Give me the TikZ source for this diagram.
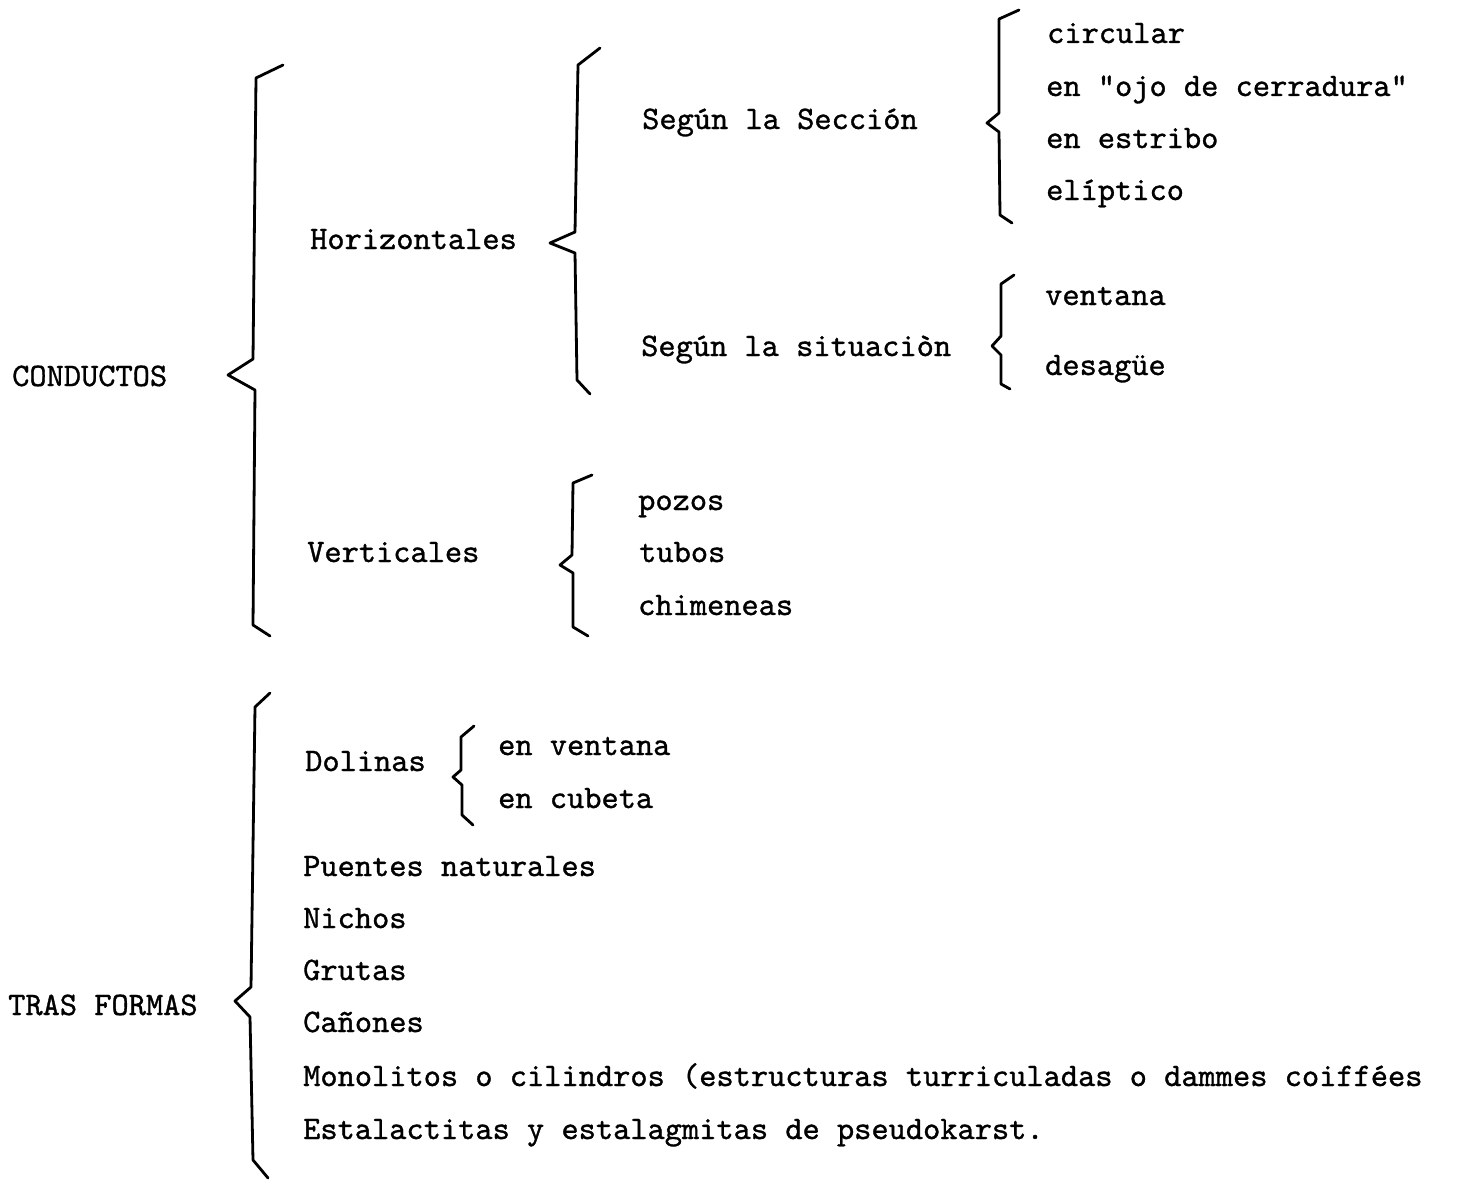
\documentclass[tikz,border=0pt]{standalone}
\usepackage{fontspec}
\newfontfamily\typew{lmmono10-regular}[Extension=.otf,FakeBold=1.0]
\begin{document}
\begin{tikzpicture}[x=1pt,y=-1pt,
  lbl/.style={anchor=base west,inner sep=0pt,font=\typew\fontsize{32.8}{34}\selectfont},
  brace/.style={line width=2.8pt,line join=round,line cap=round}]
\useasboundingbox[fill=white] (0,0) rectangle (1458,1180);
% top level
\node[lbl] (conductos) at (12,386) {CONDUCTOS};
\node[lbl] (tras) at (8,1015) {TRAS FORMAS};
% conductos
\node[lbl] (horiz) at (310,249) {Horizontales};
\node[lbl] (vert) at (307,562) {Verticales};
\node[lbl] (seccion) at (642,129) {Según la Sección};
\node[lbl] (situacion) at (641,356) {Según la situaciòn};
\node[lbl] (circ) at (1047,43) {circular};
\node[lbl] (ojo) at (1046,96) {en "ojo de cerradura"};
\node[lbl] (estribo) at (1046,148) {en estribo};
\node[lbl] (elip) at (1046,200) {elíptico};
\node[lbl] (ventana) at (1045,305) {ventana};
\node[lbl] (desague) at (1045,375) {desagüe};
\node[lbl] (pozos) at (638,510) {pozos};
\node[lbl] (tubos) at (639,562) {tubos};
\node[lbl] (chim) at (638,615) {chimeneas};
% otras formas
\node[lbl] (dolinas) at (305,771) {Dolinas};
\node[lbl] (enventana) at (498,755) {en ventana};
\node[lbl] (encubeta) at (498,808) {en cubeta};
\node[lbl] (puentes) at (303,876) {Puentes naturales};
\node[lbl] (nichos) at (303,928) {Nichos};
\node[lbl] (grutas) at (303,980) {Grutas};
\node[lbl] (canones) at (303,1032) {Cañones};
\node[lbl] (mono) at (303,1086) {Monolitos o cilindros (estructuras turriculadas o dammes coiffées};
\node[lbl] (estal) at (303,1139) {Estalactitas y estalagmitas de pseudokarst.};
% braces
\draw[brace] (283,65) -- (256,78) -- (253,359) -- (228,375) -- (255,390) -- (253,625) -- (270,636);
\draw[brace] (600,48) -- (578,65) -- (575,232) -- (550,243) -- (575,253) -- (577,380) -- (590,394);
\draw[brace] (1019,10) -- (999,19) -- (999,113) -- (987,123) -- (999,132) -- (1000,215) -- (1012,223);
\draw[brace] (1014,275) -- (1001,284) -- (1001,336) -- (992,346) -- (1001,355) -- (1001,384) -- (1010,389);
\draw[brace] (592,475) -- (573,483) -- (572,555) -- (560,565) -- (573,573) -- (573,627) -- (588,636);
\draw[brace] (270,693) -- (255,707) -- (251,987) -- (235,1001) -- (250,1017) -- (253,1160) -- (268,1178);
\draw[brace] (474,726) -- (461,737) -- (461,770) -- (453,777) -- (462,785) -- (462,815) -- (473,825);
\end{tikzpicture}
\end{document}
